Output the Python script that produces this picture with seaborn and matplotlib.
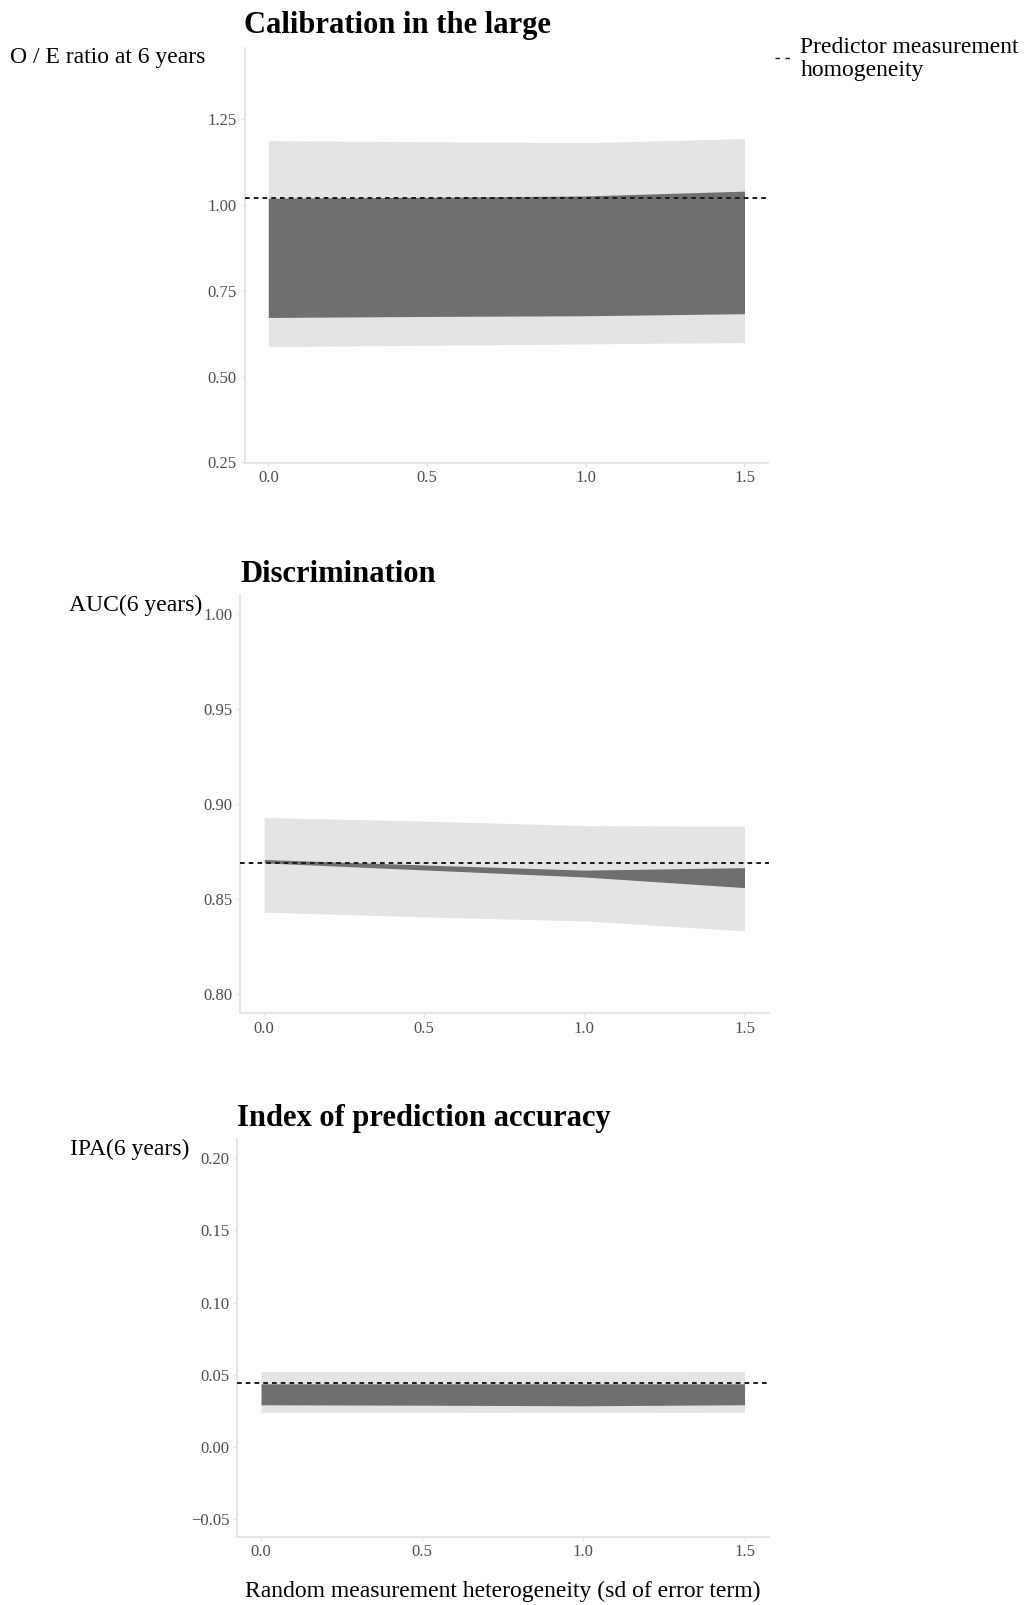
import numpy as np
import pandas as pd
import matplotlib
matplotlib.use("Agg")
import matplotlib.pyplot as plt
import seaborn as sns
from matplotlib.lines import Line2D

# ---------------- data ----------------
sd_error = [0.0, 0.5, 1.0, 1.5]

# Calibration in the large (O/E ratio)
oe_outer_lo = [0.587, 0.591, 0.595, 0.599]
oe_outer_hi = [1.187, 1.184, 1.181, 1.193]
oe_inner_lo = [0.672, 0.675, 0.677, 0.683]
oe_inner_hi = [1.0195, 1.022, 1.026, 1.040]
oe_ref = 1.020

# Discrimination (AUC)
auc_outer_lo = [0.8432, 0.8407, 0.8386, 0.8333]
auc_outer_hi = [0.8930, 0.8911, 0.8887, 0.8884]
auc_inner_lo = [0.8691, 0.8654, 0.8617, 0.8561]
auc_inner_hi = [0.8709, 0.8680, 0.8653, 0.8666]
auc_ref = 0.8688

# Index of prediction accuracy (IPA)
ipa_outer_lo = [0.0240, 0.0240, 0.0239, 0.0240]
ipa_outer_hi = [0.0523, 0.0523, 0.0522, 0.0523]
ipa_inner_lo = [0.0293, 0.0290, 0.0286, 0.0293]
ipa_inner_hi = [0.0438, 0.0438, 0.0438, 0.0438]
ipa_ref = 0.0443

titles = ["Calibration in the large", "Discrimination", "Index of prediction accuracy"]
ylabels = ["O / E ratio at 6 years", "AUC(6 years)", "IPA(6 years)"]
yticks = [[0.25, 0.50, 0.75, 1.00, 1.25],
          [0.80, 0.85, 0.90, 0.95, 1.00],
          [-0.05, 0.00, 0.05, 0.10, 0.15, 0.20]]
xticks = [0.0, 0.5, 1.0, 1.5]
xlabel = "Random measurement heterogeneity (sd of error term)"
legend_label = ["Predictor measurement", "homogeneity"]

# ---------------- style ----------------
sns.set_theme(style="white")
plt.rcParams["font.family"] = ["Liberation Serif", "DejaVu Serif"]

W, H = 1026, 1605
fig = plt.figure(figsize=(W / 100, H / 100), dpi=100)

LIGHT = "#E4E4E4"
DARK = "#6F6F6F"
SPINE = "#E3E3E3"
TICKC = "#4D4D4D"

# axes rects in pixels: left, top, right, bottom
rects = [(244.5, 48.3, 768.3, 462.7),
         (240.2, 595.0, 768.5, 1013.3),
         (236.9, 1139.3, 768.7, 1536.7)]
ylims = [(0.249, 1.456), (0.790, 1.010), (-0.062, 0.213)]
ylab_pos = [(205.5, 63.5), (202.5, 610.5), (189.5, 1155)]
title_base = [33.5, 582.3, 1126.0]

panels = [
    (oe_outer_lo, oe_outer_hi, oe_inner_lo, oe_inner_hi, oe_ref),
    (auc_outer_lo, auc_outer_hi, auc_inner_lo, auc_inner_hi, auc_ref),
    (ipa_outer_lo, ipa_outer_hi, ipa_inner_lo, ipa_inner_hi, ipa_ref),
]

def fx(x):
    return x / W

def fy(y):
    return 1 - y / H

for i, (olo, ohi, ilo, ihi, ref) in enumerate(panels):
    l, t, r, b = rects[i]
    ax = fig.add_axes([fx(l), fy(b), (r - l) / W, (b - t) / H])
    df = pd.DataFrame({"x": sd_error, "olo": olo, "ohi": ohi, "ilo": ilo, "ihi": ihi})
    ax.fill_between(df["x"], df["olo"], df["ohi"], color=LIGHT, linewidth=0, zorder=1)
    ax.fill_between(df["x"], df["ilo"], df["ihi"], color=DARK, linewidth=0, zorder=2)
    ax.axhline(ref, color="#1a1a1a", linewidth=1.4, dashes=(2.4, 2.1), zorder=3)
    ax.set_xlim(-0.075, 1.575)
    ax.set_ylim(*ylims[i])
    ax.set_xticks(xticks)
    ax.set_xticklabels([f"{v:.1f}" for v in xticks])
    ax.set_yticks(yticks[i])
    ax.set_yticklabels([f"{v:.2f}".replace("-", "\u2212") for v in yticks[i]])
    sns.despine(ax=ax)
    for s in ["left", "bottom"]:
        ax.spines[s].set_color(SPINE)
        ax.spines[s].set_linewidth(1.3)
    ax.tick_params(axis="both", length=3, width=0.9, color=SPINE, labelcolor=TICKC,
                   labelsize=12, pad=2.5, left=True, bottom=True)
    ax.set_xlabel("")
    ax.set_ylabel("")
    ax.grid(False)
    ax.set_facecolor("white")
    # title
    fig.text(fx(l), fy(title_base[i]), titles[i], fontsize=22, fontweight="bold",
             ha="left", va="baseline", color="black")
    # y label
    xl, yl = ylab_pos[i]
    fig.text(fx(xl), fy(yl), ylabels[i], fontsize=17, ha="right", va="baseline", color="black")

# x label
l3, _, r3, _ = rects[2]
fig.text(fx((l3 + r3) / 2), fy(1597), xlabel, fontsize=17, ha="center", va="baseline", color="black")

# legend
fig.add_artist(Line2D([fx(775.0), fx(791)], [fy(58.0), fy(58.0)], color="#1a1a1a",
                      linewidth=1.0, dashes=(3.2, 4.0)))
fig.text(fx(800.5), fy(52.7), legend_label[0], fontsize=17, ha="left", va="baseline", color="black")
fig.text(fx(800.5), fy(76.0), legend_label[1], fontsize=17, ha="left", va="baseline", color="black")

fig.savefig("out.png", dpi=100, facecolor="white")
